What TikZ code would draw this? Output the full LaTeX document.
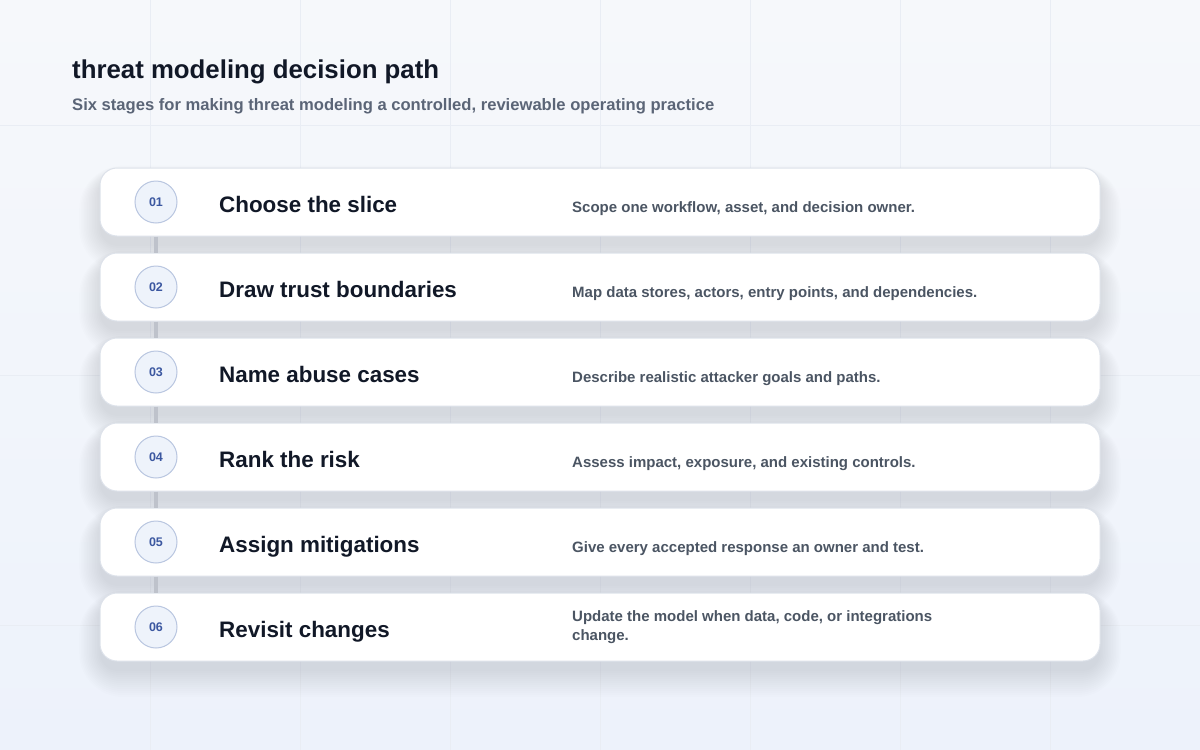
\documentclass[tikz,border=0pt]{standalone}
\usepackage{fontspec}
\setmainfont{Liberation Sans}
\usepackage{xcolor}
\usepackage{tikz}
\usetikzlibrary{positioning,calc}
\definecolor{bgtop}{HTML}{F6F8FB}
\definecolor{bgbot}{HTML}{EDF2FB}
\definecolor{gridc}{HTML}{E9EDF4}
\definecolor{ink}{HTML}{111827}
\definecolor{subink}{HTML}{5B6577}
\definecolor{descink}{HTML}{4B5563}
\definecolor{cardline}{HTML}{DDE2EA}
\definecolor{shadowc}{HTML}{3C4660}
\definecolor{numline}{HTML}{B9C6E0}
\definecolor{numfill}{HTML}{EEF3FB}
\definecolor{numink}{HTML}{3B57A0}
\definecolor{linkc}{HTML}{BEC2CB}
\tikzstyle{card}= [draw=cardline, fill=white, line width=1pt, rounded corners=17pt, minimum width=1000pt, minimum height=68pt]
\tikzstyle{num}= [circle, draw=numline, fill=numfill, line width=1pt, inner sep=0pt, minimum size=42pt, text=numink, font=\bfseries\fontsize{12.5}{12}\selectfont]
\tikzstyle{stagetitle}= [anchor=base west, inner sep=0pt, text=ink, font=\bfseries\fontsize{22.4}{26}\selectfont]
\tikzstyle{stagedesc}= [anchor=base west, inner sep=0pt, text=descink, align=left, font=\bfseries\fontsize{15}{19}\selectfont]
\tikzstyle{link}= [draw=linkc, line width=4pt]

\begin{document}
\begin{tikzpicture}[x=1pt,y=-1pt]
	\useasboundingbox (0,0) rectangle (1200,750);
	\shade[top color=bgtop, bottom color=bgbot] (0,0) rectangle (1200,750);
	\foreach \x in {150,300,...,1050} \draw[gridc, line width=1pt] (\x,0) -- (\x,750);
	\foreach \y in {125,375,625} \draw[gridc, line width=1pt] (0,\y) -- (1200,\y);
	% heading
	\node[anchor=base west, inner sep=0pt, text=ink, font=\bfseries\fontsize{25.8}{30}\selectfont] (title) at (72,78) {threat modeling decision path};
	\node[anchor=base west, inner sep=0pt, text=subink, font=\bfseries\fontsize{16.6}{20}\selectfont] (subtitle) at (72,110) {Six stages for making threat modeling a controlled, reviewable operating practice};
	% soft shadows under the cards
	\foreach \c in {202,287,372,457,542,627}
		\foreach \r in {0,2,...,26}
			\fill[shadowc, opacity=0.0075, rounded corners=18pt+\r pt] (100-0.8*\r,\c-26-0.4*\r) rectangle (1100+0.8*\r,\c+44+\r);
	% cards
	\node[card] (k1) at (600,202) {};
	\node[card] (k2) at (600,287) {};
	\node[card] (k3) at (600,372) {};
	\node[card] (k4) at (600,457) {};
	\node[card] (k5) at (600,542) {};
	\node[card] (k6) at (600,627) {};
	% step numbers
	\node[num] (n1) at (156,202) {01};
	\node[num] (n2) at (156,287) {02};
	\node[num] (n3) at (156,372) {03};
	\node[num] (n4) at (156,457) {04};
	\node[num] (n5) at (156,542) {05};
	\node[num] (n6) at (156,627) {06};
	\draw[link] (k1.south -| n1) -- (k2.north -| n2);
	\draw[link] (k2.south -| n2) -- (k3.north -| n3);
	\draw[link] (k3.south -| n3) -- (k4.north -| n4);
	\draw[link] (k4.south -| n4) -- (k5.north -| n5);
	\draw[link] (k5.south -| n5) -- (k6.north -| n6);
	% stage names
	\node[stagetitle] (t1) at (219,212) {Choose the slice};
	\node[stagetitle] (t2) at (219,297) {Draw trust boundaries};
	\node[stagetitle] (t3) at (219,382) {Name abuse cases};
	\node[stagetitle] (t4) at (219,467) {Rank the risk};
	\node[stagetitle] (t5) at (219,552) {Assign mitigations};
	\node[stagetitle] (t6) at (219,637) {Revisit changes};
	% descriptions
	\node[stagedesc] (d1) at (572,212) {Scope one workflow, asset, and decision owner.};
	\node[stagedesc] (d2) at (572,297) {Map data stores, actors, entry points, and dependencies.};
	\node[stagedesc] (d3) at (572,382) {Describe realistic attacker goals and paths.};
	\node[stagedesc] (d4) at (572,467) {Assess impact, exposure, and existing controls.};
	\node[stagedesc] (d5) at (572,552) {Give every accepted response an owner and test.};
	\node[stagedesc] (d6) at (572,640) {Update the model when data, code, or integrations\\change.};
\end{tikzpicture}
\end{document}
